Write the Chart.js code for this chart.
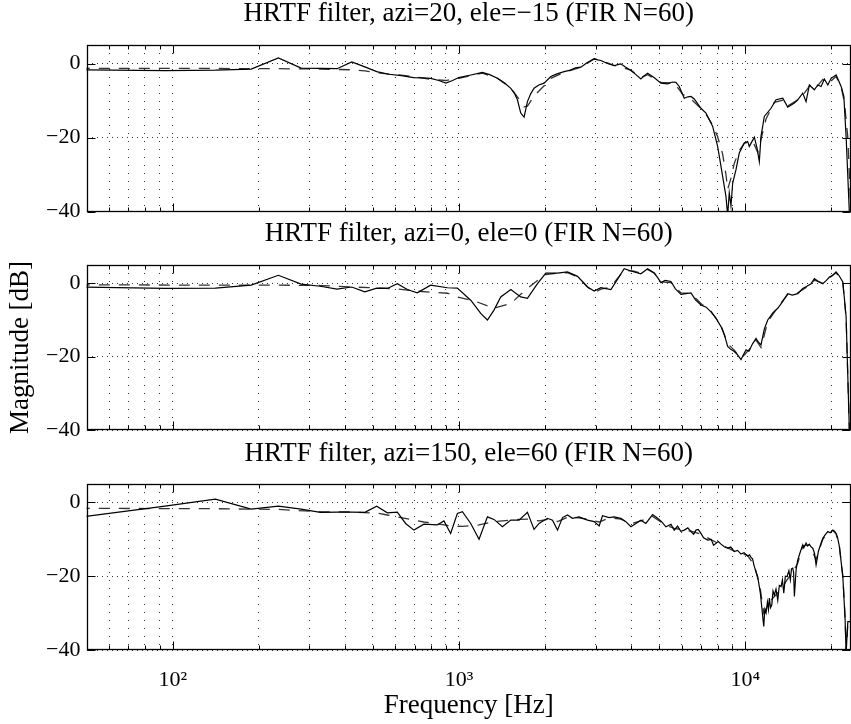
<!DOCTYPE html>
<html>
<head>
<meta charset="utf-8">
<title>HRTF filters</title>
<script src="https://cdn.jsdelivr.net/npm/chart.js@4.4.1/dist/chart.umd.min.js"></script>
<style>
    html, body { margin: 0; padding: 0; background: #fff; }
    #wrap { position: relative; width: 851px; height: 724px; overflow: hidden; }
    #wrap canvas { position: absolute; left: 0; }
</style>
</head>
<body>
<div id="wrap">
    <canvas id="c1" width="851" height="222" style="top:0px"></canvas>
    <canvas id="c2" width="851" height="220" style="top:220px"></canvas>
    <canvas id="c3" width="851" height="284" style="top:440px"></canvas>
</div>
<script>
// Panel titles
const titles = [
    'HRTF filter, azi=20, ele=\u221215 (FIR N=60)',
    'HRTF filter, azi=0, ele=0 (FIR N=60)',
    'HRTF filter, azi=150, ele=60 (FIR N=60)'
];

// Axis ticks
const xGridValues = [60, 70, 80, 90, 100, 200, 300, 400, 500, 600, 700, 800, 900,
    1000, 2000, 3000, 4000, 5000, 6000, 7000, 8000, 9000, 10000, 20000];
const xTickValues = [100, 1000, 10000];
const xTickLabels = ['10\u00b2', '10\u00b3', '10\u2074'];
const yTickValues = [-40, -20, 0];
const yTickLabels = ['\u221240', '\u221220', '0'];

// Panel 1: azi=20, ele=-15 (measured, solid)
const p1Freq = [47, 94, 141, 188, 234, 281, 328, 375, 422, 469,
    516, 568, 630, 694, 750, 796, 850, 899, 950, 998,
    1100, 1207, 1280, 1362, 1440, 1517, 1560, 1600, 1643, 1688,
    1734, 1780, 1829, 1900, 1983, 2093, 2200, 2329, 2450, 2550,
    2665, 2800, 2966, 3050, 3130, 3300, 3483, 3580, 3675, 3800,
    3985, 4150, 4318, 4450, 4559, 4800, 5073, 5355, 5560, 5724,
    5880, 6120, 6300, 6459, 6635, 7000, 7290, 7692, 8006, 8225,
    8445, 8559, 8678, 8790, 8912, 9035, 9280, 9528, 9925, 10195,
    10327, 10754, 10990, 11194, 11346, 11654, 12300, 12806, 13516, 14070,
    14842, 15249, 15873, 16303, 16742, 17432, 17913, 18396, 18893, 19418,
    19940, 20758, 21614, 22089, 22497, 23100, 23400];
const p1Mag = [-1.7, -1.9, -1.8, -1.5, 1.5, -1.25, -1.3, -1.4, 0.4, -0.9,
    -2.2, -2.9, -3.3, -3.8, -3.9, -4.0, -4.6, -5.3, -4.6, -3.8,
    -3.1, -2.4, -3.0, -4.0, -5.2, -6.7, -8.0, -9.8, -13.4, -14.5,
    -10.3, -8.2, -6.7, -5.8, -5.3, -3.5, -2.8, -2.2, -1.8, -1.2,
    -1.0, 0.2, 1.3, 1.0, 0.8, 0.0, -0.6, -0.3, -0.1, -0.9,
    -1.9, -3.0, -4.2, -3.2, -2.6, -3.8, -5.3, -5.5, -5.0, -5.1,
    -6.2, -9.4, -9.0, -8.9, -9.6, -12.1, -13.4, -17.0, -22.4, -27.8,
    -33.2, -35.9, -41, -35, -38.5, -32.3, -28.7, -24.2, -21.5, -21.1,
    -22.4, -19.9, -22.9, -26.5, -19.7, -14.3, -12.1, -9.8, -9.4, -11.8,
    -10.7, -9.8, -8.0, -10.3, -5.8, -7.1, -5.8, -6.2, -4.2, -5.8,
    -4.0, -3.1, -6.2, -8.9, -19.7, -40.5, -42];
// Panel 1 FIR approximation (dashed)
const p1FirFreq = [47, 141, 234, 328, 422, 469, 532, 694, 796, 899,
    998, 1207, 1362, 1517, 1600, 1688, 1734, 1829, 1983, 2093,
    2329, 2665, 2966, 3130, 3483, 3985, 4318, 4559, 5073, 5647,
    6041, 6546, 7188, 7692, 8006, 8334, 8559, 8678, 8912, 9152,
    9528, 9925, 10614, 11050, 11346, 11815, 12633, 13690, 14070, 15249,
    16080, 16974, 17670, 18652, 19418, 20758, 21614, 22193, 22811, 23400];
const p1FirMag = [-1.3, -1.35, -1.4, -1.5, -1.7, -2.0, -2.6, -3.5, -4.3, -4.6,
    -4.0, -2.6, -4.0, -6.7, -9.0, -11.7, -11.5, -8.8, -6.0, -4.0,
    -2.4, -1.0, 1.2, 0.8, -0.5, -1.8, -3.8, -3.0, -5.1, -5.3,
    -8.3, -10.0, -13.0, -16.6, -19.8, -24.5, -30, -34, -31, -27,
    -23.5, -21.5, -21, -24, -20.5, -15, -10.5, -9.8, -11.5, -9.8,
    -8, -5.5, -6.5, -4.3, -5.5, -3.5, -6.3, -10.5, -20, -41];

// Panel 2: azi=0, ele=0
const p2Freq = [47, 94, 141, 188, 234, 281, 328, 375, 422, 469,
    516, 562, 609, 660, 715, 796, 911, 987, 1099, 1191,
    1257, 1325, 1399, 1517, 1643, 1734, 1880, 2010, 2209, 2393,
    2594, 2812, 2966, 3130, 3393, 3532, 3775, 4092, 4318, 4559,
    4807, 4950, 5073, 5250, 5499, 5700, 5960, 6200, 6459, 6700,
    7000, 7300, 7586, 7900, 8225, 8450, 8678, 8900, 9152, 9400,
    9660, 9850, 10059, 10300, 10600, 10901, 11100, 11346, 11650, 11978,
    12500, 12983, 13500, 14070, 14600, 15249, 15873, 16400, 16974, 17432,
    18000, 18652, 19200, 19670, 20200, 20758, 21300, 21910, 22497, 23100,
    23400];
const p2Mag = [-1.0, -1.4, -1.3, -0.5, 2.2, -0.2, -0.8, -1.6, -1.0, -2.3,
    -1.3, -1.4, -0.1, -1.7, -2.6, -0.5, -1.2, -1.3, -4.6, -8.2,
    -10.0, -7.3, -3.7, -1.7, -3.7, -4.1, -0.1, 2.8, 2.8, 3.1,
    1.9, -1.0, -2.1, -1.2, -1.7, 0.4, 4.0, 3.1, 2.6, 4.0,
    2.8, 1.5, 0.2, 0.8, 0.5, -1.5, -3.0, -2.8, -2.6, -4.5,
    -5.9, -6.5, -7.8, -9.5, -11.8, -14.0, -17.2, -18.0, -18.6, -19.5,
    -20.8, -19.5, -18.1, -18.5, -16.5, -15.0, -16.0, -16.8, -12.5, -10.0,
    -8.0, -6.8, -5.0, -2.8, -3.2, -2.8, -1.4, -0.8, -0.1, 1.3,
    0.5, -0.1, 0.8, 1.7, 2.2, 3.1, 2.0, 0.4, -9.1, -40.5,
    -42];
const p2FirFreq = [47, 141, 234, 328, 422, 532, 609, 680, 796, 911,
    987, 1150, 1325, 1517, 1643, 1734, 1880, 2010, 2209, 2393,
    2594, 2812, 2966, 3130, 3393, 3532, 3775, 4092, 4318, 4559,
    4807, 5073, 5499, 5960, 6459, 7000, 7586, 8225, 8678, 9152,
    9660, 10059, 10600, 10901, 11346, 11978, 12983, 14070, 15249, 16974,
    17432, 18652, 19670, 20758, 21910, 22497, 23100, 23400];
const p2FirMag = [-0.4, -0.5, -0.5, -0.6, -1.0, -1.3, -1.5, -2.0, -2.4, -2.7,
    -3.7, -5.0, -6.8, -5.5, -3.0, -1.4, 0.8, 2.4, 2.8, 2.9,
    1.8, -1.0, -2.6, -1.6, -1.0, 0.8, 3.6, 3.3, 2.8, 3.8,
    2.8, 0.4, 0.2, -2.6, -2.8, -5.5, -7.6, -11.5, -16.5, -18.2,
    -20.5, -19.0, -17.0, -15.5, -17.5, -10.5, -6.5, -3.0, -2.6, -0.3,
    0.9, 0.0, 1.5, 2.9, 0.2, -9.5, -40.5, -42];

// Panel 3: azi=150, ele=60
const p3Freq = [47, 94, 141, 188, 234, 281, 328, 375, 422, 469,
    516, 562, 609, 651, 696, 754, 840, 886, 935, 987,
    1028, 1099, 1175, 1257, 1325, 1418, 1517, 1621, 1734, 1829,
    1904, 2037, 2121, 2209, 2299, 2393, 2491, 2627, 2812, 2966,
    3087, 3172, 3346, 3483, 3675, 3827, 3985, 4148, 4318, 4495,
    4746, 4940, 5100, 5281, 5499, 5647, 5800, 5950, 6120, 6300,
    6459, 6600, 6726, 6850, 7000, 7150, 7392, 7600, 7750, 7900,
    8050, 8225, 8450, 8678, 8900, 9152, 9400, 9660, 9900, 10195,
    10350, 10471, 10600, 10754, 11050, 11287, 11600, 11700, 11815, 11950,
    12050, 12134, 12250, 12373, 12500, 12633, 12800, 12983, 13150, 13335,
    13480, 13627, 13800, 13990, 14200, 14366, 14500, 14648, 14750, 14842,
    15047, 15249, 15550, 15873, 16000, 16303, 16500, 16742, 16950, 17210,
    17450, 17670, 17850, 18000, 18300, 18652, 19000, 19418, 19800, 20217,
    20500, 20758, 21000, 21319, 21910, 22318, 22497, 22811, 23280, 23400];
const p3Mag = [-4.0, -1.0, 0.9, -1.8, -1.0, -1.8, -2.7, -2.6, -2.6, -2.7,
    -1.0, -2.8, -2.6, -5.7, -7.5, -5.9, -6.1, -5.0, -8.4, -3.0,
    -2.5, -5.7, -10.0, -3.9, -4.6, -6.6, -4.8, -4.8, -2.7, -7.3,
    -5.7, -4.3, -4.8, -7.5, -4.1, -3.4, -4.3, -3.9, -4.8, -5.2,
    -6.4, -3.6, -4.1, -3.9, -4.3, -5.2, -6.6, -5.7, -4.8, -5.7,
    -3.3, -4.3, -5.2, -6.6, -5.9, -7.5, -6.4, -7.8, -7.5, -6.9,
    -7.9, -8.6, -7.5, -7.3, -8.4, -9.6, -10.2, -10.0, -11.6, -11.1,
    -10.6, -11.3, -12.0, -12.4, -12.1, -13.3, -13.0, -14.0, -13.6, -14.5,
    -14.2, -14.9, -15.3, -17.4, -20.1, -24.6, -33.6, -29, -30, -27,
    -29, -25.9, -28.5, -27.8, -24, -25.1, -23.5, -26.5, -22.5, -22.8,
    -21, -24.6, -20, -20.1, -18.5, -21.0, -18, -17.8, -19, -25.5,
    -18.3, -15.6, -13.5, -11.5, -12.3, -11.0, -11.8, -11.3, -12.0, -12.4,
    -13.8, -16.9, -15.0, -13.3, -11.5, -9.7, -8.8, -7.9, -8.2, -7.5,
    -7.8, -8.4, -9.5, -12.0, -20.1, -31.8, -41, -32.3, -32.3, -33];
const p3FirFreq = [47, 141, 234, 328, 422, 516, 562, 609, 696, 754,
    840, 935, 1028, 1099, 1175, 1325, 1418, 1517, 1621, 1734,
    1904, 2037, 2209, 2393, 2627, 2812, 3087, 3346, 3675, 3985,
    4318, 4746, 5281, 5647, 6459, 7000, 7900, 9152, 10195, 10754,
    11287, 11600, 12134, 12633, 13335, 13990, 14648, 15249, 15873, 16742,
    17670, 18652, 19418, 20217, 20758, 21319, 21910, 22318, 22497, 22811,
    23400];
const p3FirMag = [-1.6, -1.7, -1.9, -2.5, -2.6, -2.9, -3.4, -3.9, -4.8, -5.3,
    -5.8, -6.4, -6.5, -6.3, -6.1, -5.2, -5.0, -4.8, -4.6, -4.5,
    -5.0, -4.6, -5.2, -4.0, -4.2, -4.6, -5.3, -4.2, -4.5, -5.8,
    -5.0, -3.8, -6.2, -7.0, -7.8, -8.6, -10.8, -13.2, -14.4, -17.0,
    -23.5, -30, -27, -25.5, -23.5, -21, -18.8, -16.5, -11.8, -11.5,
    -15.5, -10, -8.1, -7.6, -8.5, -12.0, -20, -31, -40.5, -33,
    -33];

Chart.defaults.font.family = '"Liberation Serif", "Times New Roman", serif';
Chart.defaults.font.size = 22;
Chart.defaults.color = '#000';

function toPoints(freqs, mags) {
    return freqs.map((f, i) => ({ x: f, y: mags[i] }));
}

// MATLAB style box with inward tick marks on all four sides
const matlabBox = {
    id: 'matlabBox',
    afterDraw(chart) {
        const { ctx, chartArea: a, scales: { x, y } } = chart;
        const L = Math.round(a.left) + 0.5, R = Math.round(a.right) - 0.5;
        const T = Math.round(a.top) + 0.5, B = Math.round(a.bottom) - 0.5;
        ctx.save();
        ctx.strokeStyle = '#000';
        ctx.lineWidth = 1;
        ctx.beginPath();
        x.ticks.forEach(t => {
            const px = Math.round(x.getPixelForValue(t.value)) + 0.5;
            const len = t.major ? 8 : 4;
            ctx.moveTo(px, T); ctx.lineTo(px, T + len);
            ctx.moveTo(px, B); ctx.lineTo(px, B - len);
        });
        y.ticks.forEach(t => {
            const py = Math.round(y.getPixelForValue(t.value)) + 0.5;
            ctx.moveTo(L, py); ctx.lineTo(L + 8, py);
            ctx.moveTo(R, py); ctx.lineTo(R - 8, py);
        });
        ctx.stroke();
        ctx.lineWidth = 1.3;
        ctx.strokeRect(L, T, R - L, B - T);
        ctx.restore();
    }
};

function makePanel(id, idx, solidF, solidM, firF, firM, opt) {
    return new Chart(document.getElementById(id), {
        type: 'line',
        data: {
            datasets: [
                {
                    data: toPoints(solidF, solidM),
                    borderColor: '#000',
                    borderWidth: 1.2,
                    pointRadius: 0,
                    tension: 0
                },
                {
                    data: toPoints(firF, firM),
                    borderColor: '#333',
                    borderWidth: 1.3,
                    borderDash: [11, 9],
                    pointRadius: 0,
                    tension: 0
                }
            ]
        },
        options: {
            responsive: false,
            animation: false,
            events: [],
            layout: { padding: 0 },
            plugins: {
                legend: { display: false },
                tooltip: { enabled: false },
                title: {
                    display: true,
                    fullSize: false,
                    text: titles[idx],
                    color: '#000',
                    font: { size: 27, weight: 'normal', lineHeight: 1 },
                    padding: { top: 0.5, bottom: opt.titleBottom }
                }
            },
            scales: {
                x: {
                    type: 'logarithmic',
                    min: 50,
                    max: 23400,
                    afterBuildTicks: s => {
                        s.ticks = xGridValues.map(v => ({ value: v, major: xTickValues.includes(v) }));
                    },
                    afterFit: s => {
                        s.height = opt.xHeight;
                        s.paddingLeft = 0;
                        s.paddingRight = 0;
                    },
                    grid: { color: 'rgba(0,0,0,0.8)', lineWidth: 1, drawTicks: false },
                    border: { display: false, dash: [1, 7] },
                    ticks: {
                        display: opt.showX,
                        autoSkip: false,
                        maxRotation: 0,
                        padding: 17,
                        callback: v => {
                            const k = xTickValues.indexOf(v);
                            return k >= 0 ? xTickLabels[k] : '';
                        }
                    },
                    title: {
                        display: opt.showX,
                        text: 'Frequency [Hz]',
                        font: { size: 27 },
                        padding: { top: 0, bottom: 2 }
                    }
                },
                y: {
                    min: -40,
                    max: 5,
                    afterBuildTicks: s => {
                        s.ticks = yTickValues.map(v => ({ value: v }));
                    },
                    afterFit: s => {
                        s.width = 86.5;
                        s.paddingTop = 0;
                        s.paddingBottom = 0;
                    },
                    grid: { color: 'rgba(0,0,0,0.8)', lineWidth: 1, drawTicks: false },
                    border: { display: false, dash: [1, 4] },
                    ticks: {
                        padding: 6,
                        callback: v => yTickLabels[yTickValues.indexOf(v)]
                    },
                    title: {
                        display: opt.showY,
                        text: 'Magnitude [dB]',
                        font: { size: 27 },
                        padding: { top: 5, bottom: 0 }
                    }
                }
            }
        },
        plugins: [matlabBox]
    });
}

makePanel('c1', 0, p1Freq, p1Mag, p1FirFreq, p1FirMag,
    { titleBottom: 17.5, xHeight: 10.5, showX: false, showY: false });
makePanel('c2', 1, p2Freq, p2Mag, p2FirFreq, p2FirMag,
    { titleBottom: 17.5, xHeight: 10, showX: false, showY: true });
makePanel('c3', 2, p3Freq, p3Mag, p3FirFreq, p3FirMag,
    { titleBottom: 16.5, xHeight: 74, showX: true, showY: false });
</script>
</body>
</html>
